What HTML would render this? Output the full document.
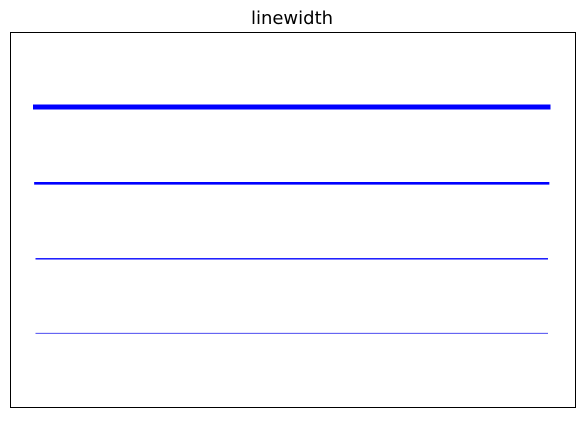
<!DOCTYPE html>
<html><head><style>body{margin:0;background:#fff}</style></head><body>
<svg width="583" height="418" xmlns="http://www.w3.org/2000/svg">
<rect x="0" y="0" width="583" height="418" fill="#fff"/>
<text x="292" y="24" text-anchor="middle" font-family="DejaVu Sans, Liberation Sans, sans-serif" font-size="18">linewidth</text>
<line x1="35.5" y1="107" x2="548" y2="107" stroke="#0000ff" stroke-width="5" stroke-linecap="square"/>
<line x1="35.5" y1="183.3" x2="548" y2="183.3" stroke="#0000ff" stroke-width="2.7" stroke-linecap="square"/>
<line x1="35.5" y1="258.8" x2="548" y2="258.8" stroke="#0000ff" stroke-width="1.3"/>
<line x1="35.5" y1="333.3" x2="548" y2="333.3" stroke="#3333ee" stroke-width="0.8"/>
<rect x="10.5" y="32.5" width="565" height="375" fill="none" stroke="#000" stroke-width="1"/>
</svg>
</body></html>
